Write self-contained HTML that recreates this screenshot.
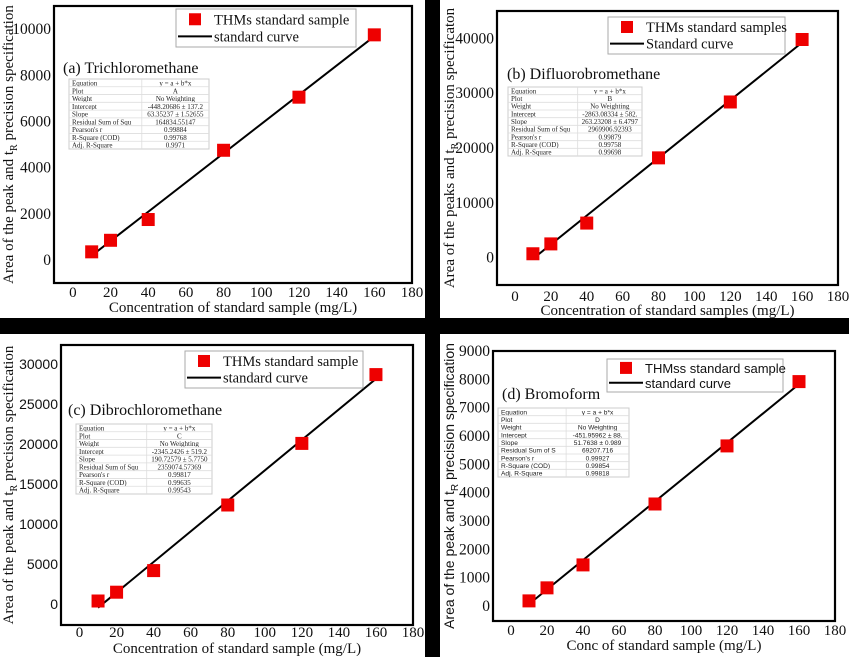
<!DOCTYPE html>
<html><head><meta charset="utf-8"><style>
html,body{margin:0;padding:0;background:#000;}
svg{display:block;}
</style></head><body>
<svg id="fig" width="849" height="657" viewBox="0 0 849 657" xmlns="http://www.w3.org/2000/svg">
<rect x="0" y="0" width="849" height="657" fill="#000"/>
</svg>
<script>
// Shared x categories (concentration, mg/L)
const concentrations = [10, 20, 40, 80, 120, 160];
const xTicks = [0, 20, 40, 60, 80, 100, 120, 140, 160, 180];
// Panel (a) Trichloromethane
const valuesA = [350, 850, 1750, 4750, 7050, 9750];
const fitA = [-448.20686, 63.35237];
const yTicksA = [0, 2000, 4000, 6000, 8000, 10000];
const statsA = ["y = a + b*x","A","No Weighting","-448.20686 ± 137.2","63.35237 ± 1.52655","164834.55147","0.99884","0.99768","0.9971"];
// Panel (b) Difluorobromethane
const valuesB = [700, 2500, 6300, 18200, 28400, 39800];
const fitB = [-2863.08334, 263.23208];
const yTicksB = [0, 10000, 20000, 30000, 40000];
const statsB = ["y = a + b*x","B","No Weighting","-2863.08334 ± 582.","263.23208 ± 6.4797","2969906.92393","0.99879","0.99758","0.99698"];
// Panel (c) Dibrochloromethane
const valuesC = [400, 1500, 4200, 12400, 20100, 28700];
const fitC = [-2345.2426, 190.72579];
const yTicksC = [0, 5000, 10000, 15000, 20000, 25000, 30000];
const statsC = ["y = a + b*x","C","No Weighting","-2345.2426 ± 519.2","190.72579 ± 5.7750","2359074.57369","0.99817","0.99635","0.99543"];
// Panel (d) Bromoform
const valuesD = [180, 640, 1450, 3600, 5650, 7920];
const fitD = [-451.95962, 51.7638];
const yTicksD = [0, 1000, 2000, 3000, 4000, 5000, 6000, 7000, 8000, 9000];
const statsD = ["y = a + b*x","D","No Weighting","-451.95962 ± 88.","51.7638 ± 0.989","69207.716","0.99927","0.99854","0.99818"];
const statLabelsABC = ["Equation","Plot","Weight","Intercept","Slope","Residual Sum of Squ","Pearson's r","R-Square (COD)","Adj. R-Square"];
const statLabelsD = ["Equation","Plot","Weight","Intercept","Slope","Residual Sum of S","Pearson's r","R-Square (COD)","Adj. R-Square"];

const NS = "http://www.w3.org/2000/svg";
const svg = document.getElementById('fig');
const SERIF = '"Liberation Serif", serif';
const SANS = '"Liberation Sans", sans-serif';
function mk(tag, attrs, parent, text){
  const e = document.createElementNS(NS, tag);
  for (const k in attrs) e.setAttribute(k, attrs[k]);
  if (text !== undefined) e.textContent = text;
  (parent || svg).appendChild(e);
  return e;
}

const panels = [
  {id:'a', bg:[0,0,425,318], fx:[54,412], fy:[6,283], xd:[-10,180], yd:[-1000,11000], vals:valuesA, fit:fitA, yt:yTicksA, stats:statsA, labels:statLabelsABC,
   title:'(a) Trichloromethane', tpos:[63,73], leg:[176,9,180,38], legText:['THMs standard sample','standard curve'], legFont:SERIF,
   table:[69,79,140,70], tFont:SERIF, ylab:'Area of the peak and t', ylab2:' precision specification', yFont:SERIF, ytFont:SERIF, ylx:8, xlab:'Concentration of standard sample (mg/L)', xly:312, xty:297},
  {id:'b', bg:[440,0,409,318], fx:[497,838], fy:[11,285], xd:[-10,180], yd:[-5000,45000], vals:valuesB, fit:fitB, yt:yTicksB, stats:statsB, labels:statLabelsABC,
   title:'(b) Difluorobromethane', tpos:[507,79], leg:[608,17,177,37], legText:['THMs standard samples','Standard curve'], legFont:SERIF,
   table:[508,87,134,69], tFont:SERIF, ylab:'Area of the peaks and t', ylab2:' precision specificaton', yFont:SERIF, ytFont:SERIF, ylx:449, xlab:'Concentration of standard samples (mg/L)', xly:315, xty:301},
  {id:'c', bg:[0,334,425,323], fx:[61,413], fy:[345,625], xd:[-10,180], yd:[-2600,32400], vals:valuesC, fit:fitC, yt:yTicksC, stats:statsC, labels:statLabelsABC,
   title:'(c) Dibrochloromethane', tpos:[68,415], leg:[185,351,178,37], legText:['THMs standard sample','standard curve'], legFont:SERIF,
   table:[76,424,136,70], tFont:SERIF, ylab:'Area of the peak and t', ylab2:' precision specification', yFont:SERIF, ytFont:SANS, ylx:8, xlab:'Concentration of standard sample (mg/L)', xly:653, xty:637},
  {id:'d', bg:[440,334,409,323], fx:[493,835], fy:[351,621], xd:[-10,180], yd:[-530,9000], vals:valuesD, fit:fitD, yt:yTicksD, stats:statsD, labels:statLabelsD,
   title:'(d) Bromoform', tpos:[502,399], leg:[607,359,176,33], legText:['THMss standard sample','standard curve'], legFont:SANS,
   table:[498,408,131,69], tFont:SANS, ylab:'Area of the peak and t', ylab2:' precision specification', yFont:SANS, ytFont:SERIF, ylx:449, xlab:'Conc of standard sample (mg/L)', xly:650, xty:635}
];

panels.forEach(p => {
  const g = mk('g', {});
  
  
  mk('rect', {x:p.bg[0], y:p.bg[1], width:p.bg[2], height:p.bg[3], fill:'#fff'}, g);
  const sx = v => p.fx[0] + (v - p.xd[0]) / (p.xd[1] - p.xd[0]) * (p.fx[1] - p.fx[0]);
  const sy = v => p.fy[1] - (v - p.yd[0]) / (p.yd[1] - p.yd[0]) * (p.fy[1] - p.fy[0]);
  xTicks.forEach(t => {
    const tx = mk('text', {x:sx(t), y:p.xty, 'font-family':SERIF, 'font-size':15, 'text-anchor':'middle', fill:'#111'}, g, String(t));
    
    
  });
  p.yt.forEach(t => {
    const ty = mk('text', {x:p.fx[0]-3, y:sy(t)+5, 'font-family':p.ytFont, 'font-size':p.ytFont===SANS?14:15.5, 'text-anchor':'end', fill:'#111'}, g, String(t));
    
    
  });
  const xt = mk('text', {x:(p.fx[0]+p.fx[1])/2, y:p.xly, 'font-family':SERIF, 'font-size':15, 'text-anchor':'middle', fill:'#111'}, g, p.xlab);
  
  
  const cy = (p.fy[0]+p.fy[1])/2;
  const yt = mk('text', {x:0, y:0, 'font-family':p.yFont, 'font-size':p.yFont===SANS?14:15, 'text-anchor':'middle', fill:'#111', transform:`translate(${p.ylx+5},${cy}) rotate(-90)`}, g);
  
  
  mk('tspan', {}, yt, p.ylab);
  mk('tspan', {'font-size':10, dy:4}, yt, 'R');
  mk('tspan', {dy:-4}, yt, p.ylab2);
  const fr = mk('rect', {x:p.fx[0], y:p.fy[0], width:p.fx[1]-p.fx[0], height:p.fy[1]-p.fy[0], fill:'none', stroke:'#000', 'stroke-width':2.2}, g);
  
  
  const ti = mk('text', {x:p.tpos[0], y:p.tpos[1], 'font-family':SERIF, 'font-size':16, fill:'#111'}, g, p.title);
  
  
  const [tx0, ty0, tw, th] = p.table;
  const tg = mk('g', {}, g);
  
  
  mk('rect', {x:tx0, y:ty0, width:tw, height:th, fill:'#fff', stroke:'#ccc', 'stroke-width':1}, tg);
  const rh = th / 9, cx = tx0 + tw*0.52;
  mk('line', {x1:cx, y1:ty0, x2:cx, y2:ty0+th, stroke:'#ddd', 'stroke-width':0.8}, tg);
  for (let i = 0; i < 9; i++) {
    if (i > 0) mk('line', {x1:tx0, y1:ty0+i*rh, x2:tx0+tw, y2:ty0+i*rh, stroke:'#ddd', 'stroke-width':0.8}, tg);
    mk('text', {x:tx0+3, y:ty0+(i+1)*rh-1.3, 'font-family':p.tFont, 'font-size':p.tFont===SANS?6.6:7, fill:'#222'}, tg, p.labels[i]);
    mk('text', {x:(cx+tx0+tw)/2, y:ty0+(i+1)*rh-1.3, 'font-family':p.tFont, 'font-size':p.tFont===SANS?6.6:7, 'text-anchor':'middle', fill:'#222'}, tg, p.stats[i]);
  }
  const x1 = concentrations[0], x2 = concentrations[concentrations.length-1];
  const fl = mk('line', {x1:sx(x1), y1:sy(p.fit[0]+p.fit[1]*x1), x2:sx(x2), y2:sy(p.fit[0]+p.fit[1]*x2), stroke:'#000', 'stroke-width':2}, g);
  
  
  concentrations.forEach((c, i) => {
    const m = mk('rect', {x:sx(c)-6.5, y:sy(p.vals[i])-6.5, width:13, height:13, fill:'#ee0000'}, g);
    
    
  });
  const [lx, ly, lw, lh] = p.leg;
  const lg = mk('g', {}, g);
  
  
  mk('rect', {x:lx, y:ly, width:lw, height:lh, fill:'#fff', stroke:'#aaa', 'stroke-width':1}, lg);
  mk('rect', {x:lx+13, y:ly+lh*0.27-6, width:12, height:12, fill:'#ee0000'}, lg);
  mk('line', {x1:lx+2, y1:ly+lh*0.72, x2:lx+36, y2:ly+lh*0.72, stroke:'#000', 'stroke-width':2}, lg);
  const lfs = p.legFont===SANS?13:14.5;
  mk('text', {x:lx+38, y:ly+lh*0.27+5, 'font-family':p.legFont, 'font-size':lfs, fill:'#111'}, lg, p.legText[0]);
  mk('text', {x:lx+38, y:ly+lh*0.72+5, 'font-family':p.legFont, 'font-size':lfs, fill:'#111'}, lg, p.legText[1]);
});
</script>
</body></html>
